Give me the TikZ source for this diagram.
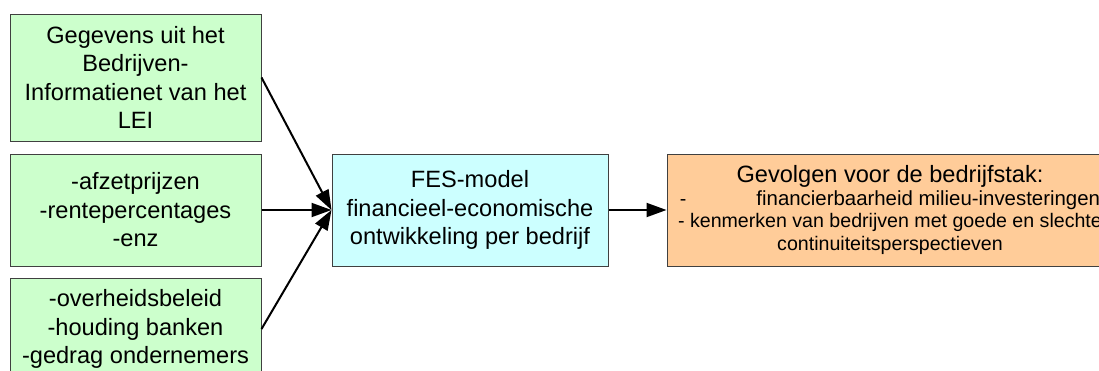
\documentclass[tikz,border=0pt]{standalone}
\usepackage{fontspec}
\setmainfont{Liberation Sans}
\usetikzlibrary{arrows.meta}
\definecolor{boxgreen}{HTML}{CCFFCC}
\definecolor{boxcyan}{HTML}{CCFFFF}
\definecolor{boxorange}{HTML}{FFCC99}
\definecolor{edgegray}{HTML}{404040}
\tikzset{
  box/.style={draw=edgegray, line width=1pt, inner sep=0pt, align=center,
    font=\fontsize{23.6}{28.5}\selectfont},
  link/.style={line width=2pt, -{Triangle[length=20pt,width=14pt]}}
}
\begin{document}
\begin{tikzpicture}[x=1pt,y=-1pt]
\clip (0,0) rectangle (1099,370);
\node[box, fill=boxgreen, minimum width=251pt, minimum height=127pt] (gegevens) at (135.5,77.5)
  {Gegevens uit het\\Bedrijven-\\Informatienet van het\\LEI};
\node[box, fill=boxgreen, minimum width=251pt, minimum height=112pt] (prijzen) at (135.5,210)
  {-afzetprijzen\\-rentepercentages\\-enz};
\node[box, fill=boxgreen, minimum width=251pt, minimum height=102pt] (beleid) at (135.5,329)
  {-overheidsbeleid\\-houding banken\\-gedrag ondernemers};
\node[box, fill=boxcyan, minimum width=276pt, minimum height=112pt] (fes) at (470,210)
  {FES-model\\financieel-economische\\ontwikkeling per bedrijf};
\node[box, fill=boxorange, minimum width=446pt, minimum height=112pt,
      font=\fontsize{19.6}{22.5}\selectfont] (gevolgen) at (890,210)
  {{\fontsize{23.6}{22.5}\selectfont Gevolgen voor de bedrijfstak:}\\
   -\hspace*{70pt}{\fontsize{20.4}{22.5}\selectfont financierbaarheid milieu-investeringen}\\
   - kenmerken van bedrijven met goede en slechte\\
   continuiteitsperspectieven};
\draw[link] (gegevens.east) -- (fes.west);
\draw[link] (prijzen.east) -- (fes.west);
\draw[link] (beleid.east) -- (fes.west);
\draw[link] (fes.east) -- (gevolgen.west);
\end{tikzpicture}
\end{document}
